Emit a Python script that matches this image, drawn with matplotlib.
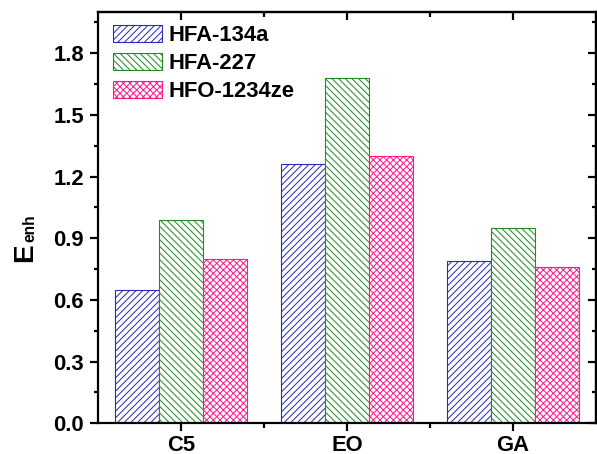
import matplotlib
matplotlib.use("Agg")
import matplotlib.pyplot as plt
import numpy as np
from matplotlib.ticker import FixedLocator, MultipleLocator

categories = ["C5", "EO", "GA"]
series_names = ["HFA-134a", "HFA-227", "HFO-1234ze"]
hfa134a = [0.65, 1.26, 0.79]
hfa227 = [0.99, 1.68, 0.95]
hfo1234ze = [0.80, 1.30, 0.76]
yticks = [0.0, 0.3, 0.6, 0.9, 1.2, 1.5, 1.8]

colors = ["#2a2ab4", "#1f8c1f", "#ff1a8c"]
hatches = ["//////", "\\\\\\\\\\\\", "xxxxxx"]

DPI = 120
W, H = 597, 454
def px(v):
    return v * 72.0 / DPI

FAM = "Liberation Sans"
plt.rcParams["font.family"] = FAM
plt.rcParams["font.weight"] = "bold"
plt.rcParams["hatch.linewidth"] = px(1.0)

fig = plt.figure(figsize=(W / DPI, H / DPI), dpi=DPI)
L, R, T, B = 98, 596, 12, 423.3
ax = fig.add_axes([L / W, 1 - B / H, (R - L) / W, (B - T) / H])

x = np.arange(len(categories))
w = 0.267
data = [hfa134a, hfa227, hfo1234ze]
for i, (vals, name) in enumerate(zip(data, series_names)):
    ax.bar(x + (i - 1) * w, vals, width=w, facecolor="white", edgecolor=colors[i],
           hatch=hatches[i], linewidth=px(1.1), label=name, zorder=2)

ax.set_xlim(-0.5, 2.5)
ax.set_ylim(0, 2.0)
ax.set_yticks(yticks)
ax.set_yticklabels([f"{t:.1f}" for t in yticks], family=FAM, weight="bold", fontsize=px(22))
ax.yaxis.set_minor_locator(MultipleLocator(0.15))
ax.set_xticks(x)
ax.set_xticklabels(categories, family=FAM, weight="bold", fontsize=px(22))
ax.xaxis.set_minor_locator(FixedLocator([0.5, 1.5]))

SW = px(2.2)
for s in ax.spines.values():
    s.set_linewidth(SW)

ax.tick_params(axis="both", which="major", direction="out", length=px(8), width=SW)
ax.tick_params(axis="both", which="minor", direction="out", length=px(4.5), width=SW)
ax.tick_params(axis="y", which="major", pad=px(6))
ax.tick_params(axis="x", which="major", pad=px(3.5))

axt = ax.secondary_xaxis("top")
axt.set_xticks(x)
axt.xaxis.set_minor_locator(FixedLocator([0.5, 1.5]))
axt.tick_params(which="major", direction="in", length=px(8), width=SW, labeltop=False)
axt.tick_params(which="minor", direction="in", length=px(4.5), width=SW)
axt.spines["top"].set_linewidth(SW)
axr = ax.secondary_yaxis("right")
axr.set_yticks(yticks)
axr.yaxis.set_minor_locator(MultipleLocator(0.15))
axr.tick_params(which="major", direction="in", length=px(8), width=SW, labelright=False)
axr.tick_params(which="minor", direction="in", length=px(4.5), width=SW)
axr.spines["right"].set_linewidth(SW)

# y label: E with subscript enh
fig.text(31.7 / W, 1 - 261.7 / H, "E", rotation=90, rotation_mode="anchor",
         ha="left", va="baseline", family=FAM, weight="bold", fontsize=px(28))
fig.text(34.5 / W, 1 - 241.5 / H, "enh", rotation=90, rotation_mode="anchor",
         ha="left", va="baseline", family=FAM, weight="bold", fontsize=px(15.5))

fsl = px(22)
leg = ax.legend(loc="upper left", frameon=False,
                prop={"family": FAM, "weight": "bold", "size": fsl},
                handlelength=49 / 22, handleheight=18 / 22,
                handletextpad=0.3, labelspacing=0.31, borderpad=0.0,
                borderaxespad=0.0,
                bbox_to_anchor=(14.7 / (R - L), 1 - 12.5 / (B - T)))

fig.savefig("out.png", dpi=DPI)
